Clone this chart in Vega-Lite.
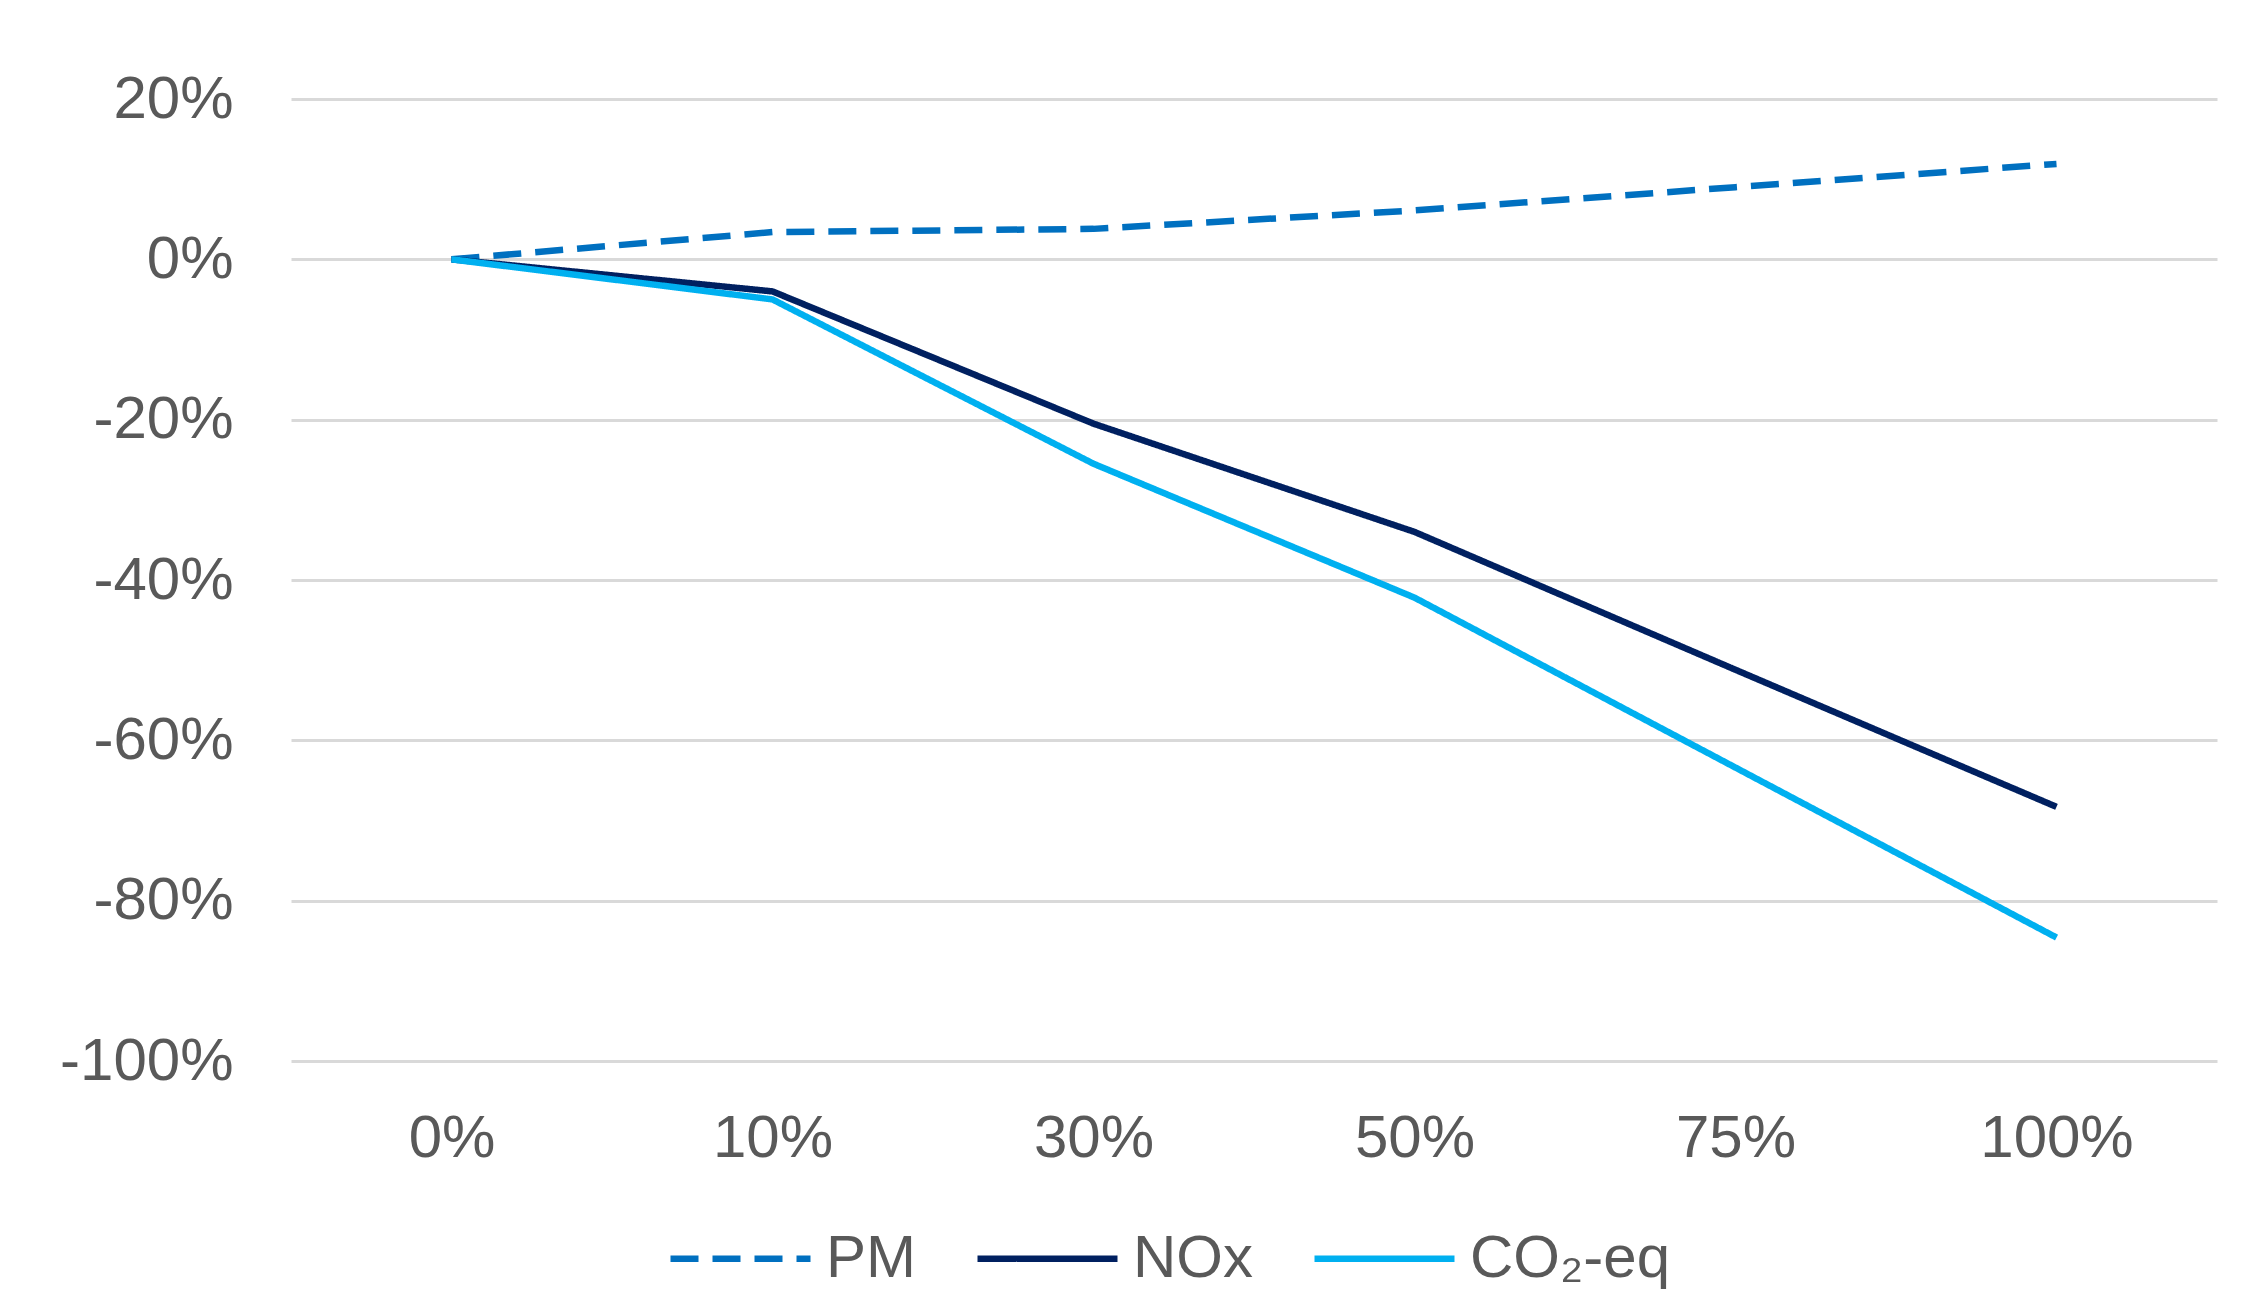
{
  "$schema": "https://vega.github.io/schema/vega-lite/v6.json",
  "width": 1926,
  "height": 962,
  "autosize": {"type": "none"},
  "padding": {"left": 291, "top": 99, "right": 40, "bottom": 248},
  "background": "white",
  "config": {
    "font": "Liberation Sans",
    "view": {"stroke": null}
  },
  "data": {
    "values": [
      {"level": "0%", "series": "PM", "value": 0},
      {"level": "10%", "series": "PM", "value": 0.034},
      {"level": "30%", "series": "PM", "value": 0.038},
      {"level": "50%", "series": "PM", "value": 0.061},
      {"level": "75%", "series": "PM", "value": 0.09},
      {"level": "100%", "series": "PM", "value": 0.119},
      {"level": "0%", "series": "NOx", "value": 0},
      {"level": "10%", "series": "NOx", "value": -0.04},
      {"level": "30%", "series": "NOx", "value": -0.205},
      {"level": "50%", "series": "NOx", "value": -0.34},
      {"level": "75%", "series": "NOx", "value": -0.512},
      {"level": "100%", "series": "NOx", "value": -0.683},
      {"level": "0%", "series": "CO₂-eq", "value": 0},
      {"level": "10%", "series": "CO₂-eq", "value": -0.05},
      {"level": "30%", "series": "CO₂-eq", "value": -0.255},
      {"level": "50%", "series": "CO₂-eq", "value": -0.422},
      {"level": "75%", "series": "CO₂-eq", "value": -0.634},
      {"level": "100%", "series": "CO₂-eq", "value": -0.846}
    ]
  },
  "mark": {"type": "line", "strokeWidth": 6.5, "strokeCap": "butt", "strokeJoin": "round"},
  "encoding": {
    "x": {
      "field": "level",
      "type": "ordinal",
      "sort": ["0%", "10%", "30%", "50%", "75%", "100%"],
      "scale": {"paddingInner": 0, "paddingOuter": 0.5},
      "axis": {
        "title": null,
        "domain": false,
        "ticks": false,
        "grid": false,
        "labelAngle": 0,
        "labelFontSize": 60,
        "labelColor": "#595959",
        "labelPadding": 48
      }
    },
    "y": {
      "field": "value",
      "type": "quantitative",
      "scale": {"domain": [-1, 0.2], "nice": false, "zero": false},
      "axis": {
        "title": null,
        "format": ".0%",
        "labelExpr": "replace(datum.label, '−', '-')",
        "values": [-1, -0.8, -0.6, -0.4, -0.2, 0, 0.2],
        "domain": false,
        "ticks": false,
        "grid": true,
        "gridColor": "#D9D9D9",
        "gridWidth": 3,
        "labelFontSize": 60,
        "labelColor": "#595959",
        "labelPadding": 58
      }
    },
    "color": {
      "field": "series",
      "type": "nominal",
      "sort": ["PM", "NOx", "CO₂-eq"],
      "scale": {"domain": ["PM", "NOx", "CO₂-eq"], "range": ["#0070C0", "#002060", "#00B0F0"]},
      "legend": {
        "title": null,
        "orient": "none",
        "direction": "horizontal",
        "legendX": 376,
        "legendY": 1086,
        "symbolType": "stroke",
        "symbolSize": 19600,
        "symbolStrokeWidth": 6.5,
        "labelFontSize": 60,
        "labelColor": "#595959",
        "labelLimit": 600,
        "labelOffset": 12,
        "columnPadding": 48
      }
    },
    "strokeDash": {
      "field": "series",
      "type": "nominal",
      "sort": ["PM", "NOx", "CO₂-eq"],
      "scale": {"domain": ["PM", "NOx", "CO₂-eq"], "range": [[28, 14], [1, 0], [1, 0]]},
      "legend": null
    }
  }
}
